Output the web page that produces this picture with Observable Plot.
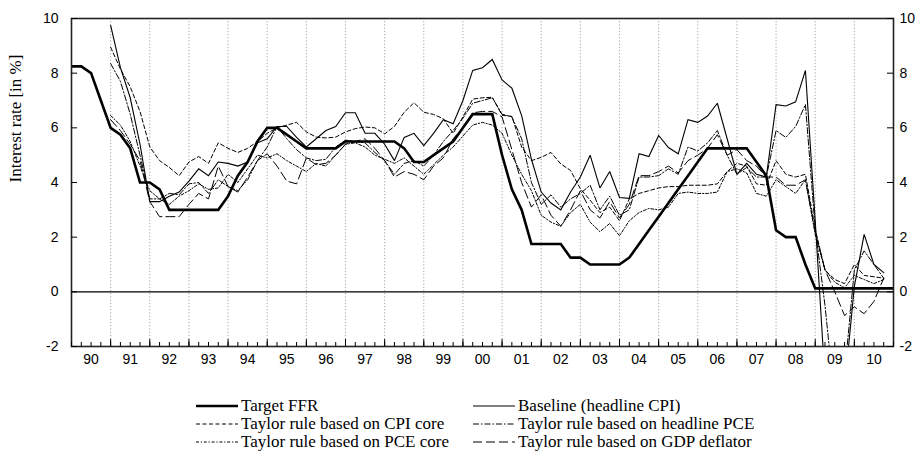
<!DOCTYPE html>
<html><head><meta charset="utf-8">
<script src="https://cdn.jsdelivr.net/npm/d3@7"></script>
<script src="https://cdn.jsdelivr.net/npm/@observablehq/plot@0.6"></script>
<style>
body{margin:0;background:#fff;}
#wrap{position:relative;width:922px;height:459px;overflow:hidden;}
.item{position:absolute;display:flex;align-items:center;font-family:"Liberation Serif","Times New Roman",serif;font-size:17px;color:#000;white-space:nowrap;line-height:18px;}
.item svg{margin-right:3px;}
</style></head><body>
<div id="wrap"><div id="chart"></div></div>
<script>
// ---- data ----
const yearLabels = ["90","91","92","93","94","95","96","97","98","99","00","01","02","03","04","05","06","07","08","09","10"];
const ffrStartYear = 1990;       // quarterly from 1990Q1
const targetFFR = [
 8.25,8.25,8.0,7.0, 6.0,5.75,5.25,4.0, 4.0,3.75,3.0,3.0, 3.0,3.0,3.0,3.0,
 3.5,4.25,4.75,5.5, 6.0,6.0,5.75,5.5, 5.25,5.25,5.25,5.25, 5.5,5.5,5.5,5.5,
 5.5,5.5,5.25,4.75, 4.75,5.0,5.25,5.5, 6.0,6.5,6.5,6.5, 5.0,3.75,3.0,1.75,
 1.75,1.75,1.75,1.25, 1.25,1.0,1.0,1.0, 1.0,1.25,1.75,2.25, 2.75,3.25,3.75,4.25,
 4.75,5.25,5.25,5.25, 5.25,5.25,4.75,4.25, 2.25,2.0,2.0,1.0, 0.125,0.125,0.125,0.125,
 0.125,0.125,0.125,0.125, 0.125
];
const taylorStartYear = 1991;    // quarterly from 1991Q1
const baseline = [
 9.75,8.2,7.1,5.4, 3.3,3.3,3.5,3.65, 4.05,4.5,4.25,4.75, 4.7,4.6,4.75,5.45,
 5.6,6.05,6.05,5.65, 5.3,5.6,5.9,6.05, 6.55,6.55,5.8,5.8, 5.4,4.8,5.65,5.8,
 5.35,5.8,6.3,6.15, 7.0,8.1,8.2,8.5, 7.75,7.45,6.45,4.85, 3.65,3.25,3.0,3.65,
 4.2,5.0,3.8,4.4, 3.45,3.42,5.05,4.95, 5.72,5.28,5.05,6.3, 6.2,6.43,6.9,5.6,
 4.3,4.7,4.3,4.2, 6.85,6.8,6.95,8.1, 2.6,-3.2,-4.0,-3.5, 0.2,2.1,1.0,0.7
];
const cpiCore = [
 8.95,8.15,7.5,6.6, 5.3,4.8,4.55,4.25, 4.75,4.95,4.7,5.45, 5.25,5.1,5.25,5.5,
 5.8,6.0,6.1,6.2, 5.85,5.66,5.63,5.66, 5.85,5.97,6.03,6.0, 5.78,6.05,6.57,6.92,
 6.57,6.49,6.33,5.8, 6.4,7.05,7.1,7.12, 6.46,6.42,5.3,4.8, 4.92,5.1,4.68,4.44,
 3.77,3.35,2.9,3.1, 2.6,3.4,3.6,3.7, 3.8,3.85,3.85,3.9, 3.9,3.9,3.95,4.4,
 4.7,4.6,3.95,3.9, 4.8,4.3,4.2,4.3, 2.3,0.8,0.45,0.3, 1.0,0.6,0.55,0.5
];
const headlinePCE = [
 8.35,7.7,6.5,5.0, 3.4,3.4,3.6,3.55, 3.95,4.0,3.6,4.1, 3.85,3.7,4.1,4.8,
 5.3,6.05,5.6,5.2, 4.9,4.8,4.85,5.3, 5.55,5.5,5.45,5.1, 4.8,4.3,4.7,4.8,
 4.6,5.0,5.5,5.9, 6.35,6.9,7.0,7.1, 6.5,6.4,5.6,4.0, 3.2,3.55,3.1,3.4,
 3.6,3.9,3.0,3.5, 2.8,3.0,4.2,4.2, 4.25,4.5,4.3,5.3, 5.15,5.45,5.9,5.0,
 4.3,4.55,4.2,4.2, 5.9,5.65,6.05,6.85, 2.3,-0.5,-4.0,-3.0, 0.8,1.5,1.0,0.5
];
const pceCore = [
 6.45,6.1,5.5,4.6, 3.7,3.4,3.2,3.5, 3.7,3.95,3.75,3.8, 4.3,4.0,4.5,5.0,
 4.9,5.05,4.8,4.6, 4.4,4.7,4.6,5.0, 5.4,5.45,5.3,5.0, 4.85,4.7,4.9,4.6,
 4.3,4.65,5.0,5.3, 5.7,6.1,6.2,6.1, 5.8,5.0,4.3,3.7, 2.8,2.55,2.4,2.9,
 3.2,2.55,2.2,2.5, 2.05,2.6,2.9,3.05, 3.0,3.1,3.6,3.65, 3.6,3.6,3.65,4.4,
 4.5,4.35,3.6,3.5, 4.1,3.85,3.6,4.1, 2.1,0.8,0.35,0.15, 0.6,0.45,0.3,0.45
];
const gdpDeflator = [
 6.3,5.9,5.4,4.8, 3.3,2.75,2.75,2.75, 3.2,3.6,3.4,4.6, 3.85,3.65,4.2,4.8,
 5.05,4.6,4.05,3.95, 4.9,4.65,4.7,5.0, 5.4,5.5,5.6,5.25, 4.8,4.2,4.4,4.3,
 4.1,4.6,4.9,5.6, 6.0,6.55,6.6,6.6, 6.4,5.2,4.0,3.1, 3.55,2.8,2.4,3.0,
 3.7,3.0,2.7,3.3, 2.7,3.2,4.25,4.25, 4.4,4.6,4.35,4.8, 5.0,5.25,5.75,5.0,
 5.2,4.8,4.6,4.2, 4.2,3.9,3.9,4.1, 2.2,0.8,0.0,-0.87, -0.55,-0.8,-0.35,0.5
];
const seriesNames = ["Target FFR","Baseline (headline CPI)","Taylor rule based on CPI core","Taylor rule based on headline PCE","Taylor rule based on PCE core","Taylor rule based on GDP deflator"];
const yTicks = [-2,0,2,4,6,8,10];

// ---- build tables ----
const styles = {
  "Target FFR": {w:2.6, dash:null},
  "Baseline (headline CPI)": {w:1.1, dash:null},
  "Taylor rule based on CPI core": {w:1, dash:"4,2.5"},
  "Taylor rule based on headline PCE": {w:1, dash:"6,2,1.5,2"},
  "Taylor rule based on PCE core": {w:1, dash:"3,1.8,1.2,1.8"},
  "Taylor rule based on GDP deflator": {w:1, dash:"9,4"}
};
const toRows = (vals, start) => vals.map((v,i) => ({t: start + i/4, v}));
const tables = {
  "Target FFR": toRows(targetFFR, ffrStartYear),
  "Baseline (headline CPI)": toRows(baseline, taylorStartYear),
  "Taylor rule based on CPI core": toRows(cpiCore, taylorStartYear),
  "Taylor rule based on headline PCE": toRows(headlinePCE, taylorStartYear),
  "Taylor rule based on PCE core": toRows(pceCore, taylorStartYear),
  "Taylor rule based on GDP deflator": toRows(gdpDeflator, taylorStartYear)
};
const firstYear = 1990, lastYear = 2011;
const yearBounds = d3.range(firstYear+1, lastYear);
const yearMids = d3.range(firstYear, lastYear).map(y => y + 0.5);
const quarterTicks = d3.range(firstYear*4, lastYear*4+1).map(q => q/4);

const W = 922, H = 375, mL = 71, mR = 29, mT = 18, mB = 29;
const innerW = W - mL - mR, innerH = H - mT - mB;

const lineOrder = ["Taylor rule based on GDP deflator","Taylor rule based on PCE core","Taylor rule based on headline PCE","Taylor rule based on CPI core","Baseline (headline CPI)","Target FFR"];
const lineMarks = lineOrder.map(name => Plot.line(tables[name], {
  x:"t", y:"v", stroke:"#000", strokeWidth: styles[name].w,
  strokeDasharray: styles[name].dash, clip:true, strokeLinejoin:"miter", strokeMiterlimit: 2
}));

const chart = Plot.plot({
  width: W, height: H, marginLeft: mL, marginRight: mR, marginTop: mT, marginBottom: mB,
  x: {domain:[firstYear, lastYear], label:null},
  y: {domain:[-2,10], label:null},
  style: {fontFamily:"'Liberation Sans', Arial, sans-serif", fontSize:"14px", color:"#000", background:"#fff"},
  marks: [
    Plot.gridX(yearBounds, {stroke:"#9a9a9a", strokeOpacity:1, strokeWidth:0.9, strokeDasharray:"1.2,2"}),
    Plot.ruleY([0], {stroke:"#000", strokeWidth:1.4}),
    ...lineMarks,
    Plot.frame({stroke:"#222", strokeWidth:1.6}),
    Plot.gridY(yTicks, {stroke:"#000", strokeOpacity:1, strokeWidth:1, insetRight: innerW - 6}),
    Plot.gridY(yTicks, {stroke:"#000", strokeOpacity:1, strokeWidth:1, insetLeft: innerW - 6}),
    Plot.gridX(quarterTicks, {stroke:"#000", strokeOpacity:1, strokeWidth:1, insetTop: innerH - 4}),
    Plot.gridX(yearBounds, {stroke:"#000", strokeOpacity:1, strokeWidth:1, insetTop: innerH - 7}),
    Plot.axisY(yTicks, {anchor:"left", tickSize:0, tickPadding:13, tickFormat: d => String(d)}),
    Plot.axisY(yTicks, {anchor:"right", tickSize:0, tickPadding:6, tickFormat: d => String(d)}),
    Plot.axisX(yearMids, {anchor:"bottom", tickSize:0, tickPadding:8, tickFormat: (d,i) => yearLabels[i]}),
    Plot.text(["Interest rate [in %]"], {frameAnchor:"left", rotate:-90, dx:-56, fontFamily:"'Liberation Serif', 'Times New Roman', serif", fontSize:17, fill:"#000"})
  ]
});
document.getElementById("chart").appendChild(chart);

// ---- legend ----
const legendPos = [
  {name:"Target FFR", left:196, top:406},
  {name:"Baseline (headline CPI)", left:473, top:406},
  {name:"Taylor rule based on CPI core", left:196, top:424},
  {name:"Taylor rule based on headline PCE", left:473, top:424},
  {name:"Taylor rule based on PCE core", left:196, top:442},
  {name:"Taylor rule based on GDP deflator", left:473, top:442}
];
const wrap = document.getElementById("wrap");
for (const p of legendPos) {
  const st = styles[p.name];
  const div = document.createElement("div");
  div.className = "item";
  div.style.left = p.left + "px";
  div.style.top = (p.top - 9) + "px";
  div.innerHTML = `<svg width="42" height="10"><line x1="0" y1="5" x2="42" y2="5" stroke="#000" stroke-width="${st.w}" ${st.dash ? `stroke-dasharray="${st.dash}"` : ""}/></svg><span>${p.name}</span>`;
  wrap.appendChild(div);
}
</script>
</body></html>
